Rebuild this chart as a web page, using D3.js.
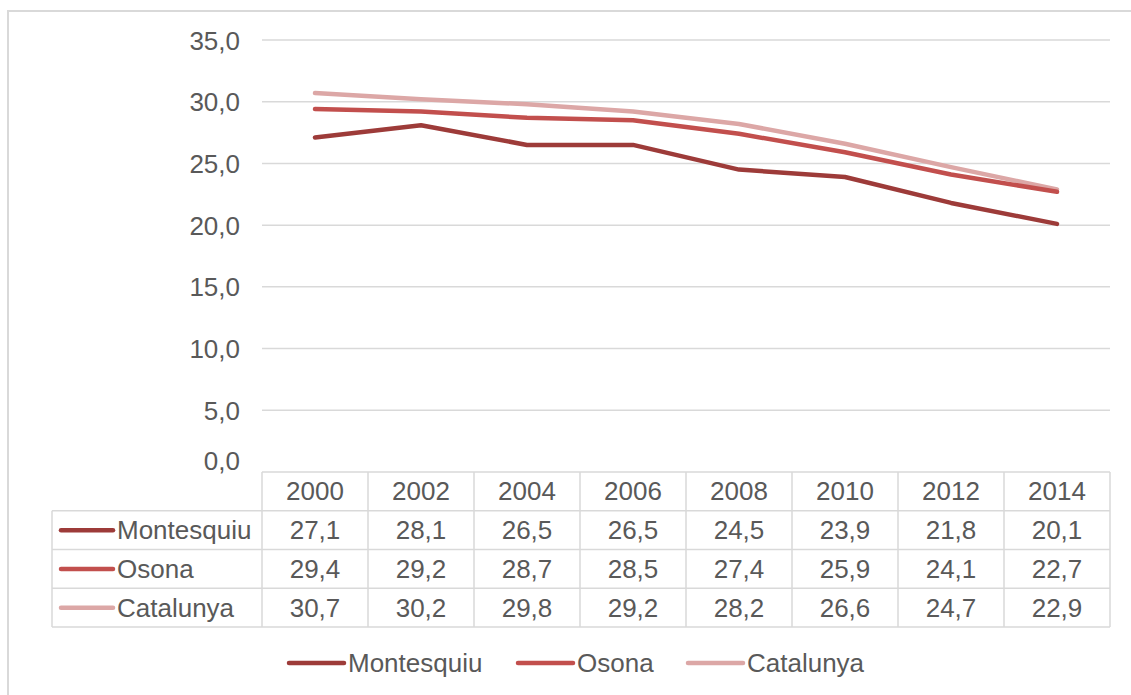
<!DOCTYPE html>
<html>
<head>
<meta charset="utf-8">
<script src="https://cdn.jsdelivr.net/npm/d3@7"></script>
<style>
  html, body { margin: 0; padding: 0; background: #fff; }
  svg { display: block; font-family: "Liberation Sans", Arial, sans-serif; }
</style>
</head>
<body>
<svg id="chart" width="1131" height="695"></svg>
<script>
const years = ["2000", "2002", "2004", "2006", "2008", "2010", "2012", "2014"];
const seriesNames = ["Montesquiu", "Osona", "Catalunya"];
const montesquiu = [27.1, 28.1, 26.5, 26.5, 24.5, 23.9, 21.8, 20.1];
const osona = [29.4, 29.2, 28.7, 28.5, 27.4, 25.9, 24.1, 22.7];
const catalunya = [30.7, 30.2, 29.8, 29.2, 28.2, 26.6, 24.7, 22.9];
const yTicks = [0, 5, 10, 15, 20, 25, 30, 35];
const colors = ["#9d3b39", "#c24f4d", "#dca7a6"];

const seriesValues = [montesquiu, osona, catalunya];

const locale = d3.formatLocale({ decimal: ",", thousands: ".", grouping: [3], currency: ["", "€"] });
const fmt = locale.format(".1f");

const svg = d3.select("#chart");
const textColor = "#595959";
const gridColor = "#d9d9d9";
const fontSize = 26;

// Outer frame
svg.append("rect")
    .attr("x", 8).attr("y", 11)
    .attr("width", 1140).attr("height", 700)
    .attr("fill", "none")
    .attr("stroke", gridColor)
    .attr("stroke-width", 2);

const plotLeft = 262, plotRight = 1110, plotTop = 40, plotBottom = 472;

const xScale = d3.scaleBand().domain(years).range([plotLeft, plotRight]);
const yScale = d3.scaleLinear().domain([0, 35]).range([plotBottom, plotTop]);

// Gridlines
svg.append("g")
    .selectAll("line")
    .data(yTicks.filter(d => d > 0))
    .enter()
    .append("line")
    .attr("x1", plotLeft).attr("x2", plotRight)
    .attr("y1", d => yScale(d)).attr("y2", d => yScale(d))
    .attr("stroke", gridColor)
    .attr("stroke-width", 1.5);

// Y axis labels
const yAxis = svg.append("g")
    .attr("transform", "translate(" + (plotLeft - 22) + ",0)")
    .call(d3.axisLeft(yScale).tickValues(yTicks).tickFormat(fmt).tickSize(0).tickPadding(0));
yAxis.select(".domain").remove();
yAxis.selectAll("text")
    .attr("fill", textColor)
    .style("font-size", fontSize + "px")
    .style("font-family", "'Liberation Sans', Arial, sans-serif")
    .attr("dy", "0.35em");
yAxis.selectAll("g.tick").filter(d => d === 0).select("text").attr("dy", "-0.1em");

// Lines
const line = d3.line()
    .x((d, i) => xScale(years[i]) + xScale.bandwidth() / 2)
    .y(d => yScale(d));

svg.append("g")
    .selectAll("path")
    .data(seriesValues.map((v, i) => ({ name: seriesNames[i], values: v, color: colors[i] })).reverse())
    .enter()
    .append("path")
    .attr("d", d => line(d.values))
    .attr("fill", "none")
    .attr("stroke", d => d.color)
    .attr("stroke-width", 4.5)
    .attr("stroke-linejoin", "round")
    .attr("stroke-linecap", "round");

// Data table
const tableLeft = 52, tableTop = 472, tableBottom = 627;
const rowScale = d3.scaleBand().domain(["header"].concat(seriesNames)).range([tableTop, tableBottom]);
const table = svg.append("g");

// horizontal lines
table.selectAll("line.h")
    .data(["header"].concat(seriesNames).concat(["end"]))
    .enter()
    .append("line")
    .attr("x1", (d) => d === "header" ? plotLeft : tableLeft)
    .attr("x2", plotRight)
    .attr("y1", d => d === "end" ? tableBottom : rowScale(d))
    .attr("y2", d => d === "end" ? tableBottom : rowScale(d))
    .attr("stroke", gridColor)
    .attr("stroke-width", 1.5);

// vertical lines
table.append("line")
    .attr("x1", tableLeft).attr("x2", tableLeft)
    .attr("y1", rowScale(seriesNames[0])).attr("y2", tableBottom)
    .attr("stroke", gridColor).attr("stroke-width", 1.5);
table.selectAll("line.v")
    .data(years.concat(["end"]))
    .enter()
    .append("line")
    .attr("x1", d => d === "end" ? plotRight : xScale(d))
    .attr("x2", d => d === "end" ? plotRight : xScale(d))
    .attr("y1", tableTop).attr("y2", tableBottom)
    .attr("stroke", gridColor).attr("stroke-width", 1.5);

// header years
table.selectAll("text.year")
    .data(years)
    .enter()
    .append("text")
    .attr("x", d => xScale(d) + xScale.bandwidth() / 2)
    .attr("y", rowScale("header") + rowScale.bandwidth() / 2)
    .attr("dy", "0.35em")
    .attr("text-anchor", "middle")
    .attr("fill", textColor)
    .style("font-size", fontSize + "px")
    .text(d => d);

// row labels with legend keys
seriesNames.forEach((name, i) => {
    const cy = rowScale(name) + rowScale.bandwidth() / 2;
    table.append("line")
        .attr("x1", 61).attr("x2", 113)
        .attr("y1", cy).attr("y2", cy)
        .attr("stroke", colors[i])
        .attr("stroke-width", 4.5)
        .attr("stroke-linecap", "round");
    table.append("text")
        .attr("x", 117).attr("y", cy)
        .attr("dy", "0.35em")
        .attr("fill", textColor)
        .style("font-size", fontSize + "px")
        .text(name);
    table.selectAll("text.v" + i)
        .data(seriesValues[i])
        .enter()
        .append("text")
        .attr("x", (d, j) => xScale(years[j]) + xScale.bandwidth() / 2)
        .attr("y", cy)
        .attr("dy", "0.35em")
        .attr("text-anchor", "middle")
        .attr("fill", textColor)
        .style("font-size", fontSize + "px")
        .text(d => fmt(d));
});

// Bottom legend
const legendX = [289, 518, 688];
const legendY = 663;
const legend = svg.append("g")
    .selectAll("g")
    .data(seriesNames)
    .enter()
    .append("g")
    .attr("transform", (d, i) => "translate(" + legendX[i] + "," + legendY + ")");
legend.append("line")
    .attr("x1", 0).attr("x2", 55)
    .attr("stroke", (d, i) => colors[i])
    .attr("stroke-width", 4.5)
    .attr("stroke-linecap", "round");
legend.append("text")
    .attr("x", 59)
    .attr("dy", "0.35em")
    .attr("fill", textColor)
    .style("font-size", fontSize + "px")
    .text(d => d);
</script>
</body>
</html>
